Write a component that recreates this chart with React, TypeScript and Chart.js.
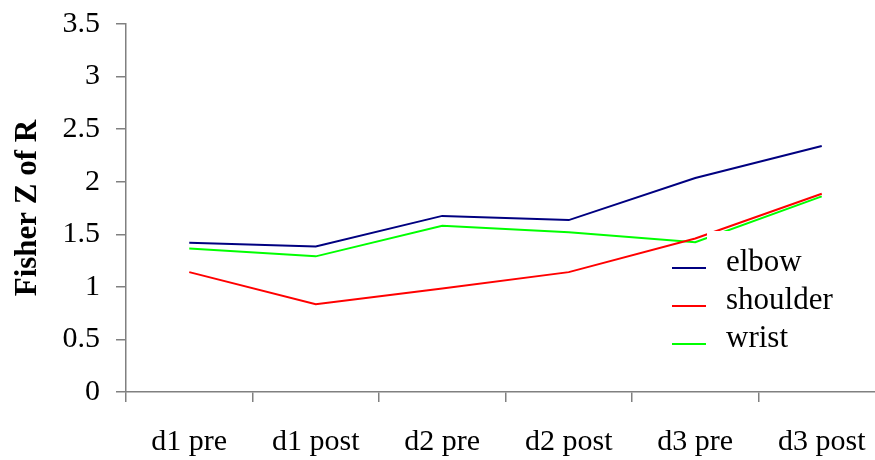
import React, { useEffect, useRef } from "react";
import { Chart, registerables } from "chart.js";

Chart.register(...registerables);

const categories = ["d1 pre", "d1 post", "d2 pre", "d2 post", "d3 pre", "d3 post"];
const elbow = [1.42, 1.385, 1.675, 1.635, 2.035, 2.34];
const shoulder = [1.14, 0.835, 0.985, 1.14, 1.46, 1.885];
const wrist = [1.365, 1.29, 1.58, 1.52, 1.425, 1.86];
const seriesNames = ["elbow", "shoulder", "wrist"];
const seriesColors = ["#000080", "#ff0000", "#00ff00"];
const yTicks = [0, 0.5, 1, 1.5, 2, 2.5, 3, 3.5];

const FONT = "'Liberation Serif', 'Times New Roman', serif";

const legendPlugin = {
  id: "customLegend",
  afterDatasetsDraw(chart: any) {
    const ctx = chart.ctx;
    ctx.save();
    ctx.fillStyle = "#ffffff";
    ctx.fillRect(707, 231, 150, 130);
    ctx.font = `31px ${FONT}`;
    ctx.textBaseline = "alphabetic";
    ctx.textAlign = "left";
    chart.data.datasets.forEach((ds: any, i: number) => {
      const y = 268 + i * 38;
      ctx.strokeStyle = ds.borderColor;
      ctx.lineWidth = 2;
      ctx.beginPath();
      ctx.moveTo(672, y);
      ctx.lineTo(706, y);
      ctx.stroke();
      ctx.fillStyle = "#000";
      ctx.fillText(ds.label, 726, y + 3);
    });
    ctx.restore();
  },
};

export default function App() {
  const ref = useRef<HTMLCanvasElement | null>(null);
  useEffect(() => {
    if (!ref.current) return;
    const axisColor = "#808080";
    const chart = new Chart(ref.current, {
      type: "line",
      data: {
        labels: categories,
        datasets: [elbow, shoulder, wrist].map((d, i) => ({
          label: seriesNames[i],
          data: d,
          borderColor: seriesColors[i],
          backgroundColor: seriesColors[i],
          borderWidth: 2,
          pointRadius: 0,
          tension: 0,
          fill: false,
        })),
      },
      options: {
        animation: false,
        responsive: false,
        maintainAspectRatio: false,
        layout: { padding: { top: 24, right: 15, left: 0, bottom: 0 } },
        plugins: {
          legend: { display: false },
          tooltip: { enabled: false },
        },
        scales: {
          x: {
            type: "category",
            offset: true,
            grid: {
              offset: true,
              drawOnChartArea: false,
              drawTicks: true,
              tickLength: 10,
              color: axisColor,
              lineWidth: 1.5,
            },
            border: { color: axisColor, width: 1.5 },
            ticks: {
              color: "#000",
              font: { family: FONT, size: 30 },
              padding: 22,
              maxRotation: 0,
              autoSkip: false,
            },
            afterFit(scale: any) {
              scale.height = 68;
              scale.paddingLeft = 0;
              scale.paddingRight = 0;
            },
          },
          y: {
            min: 0,
            max: 3.5,
            afterBuildTicks(scale: any) {
              scale.ticks = yTicks.map((v) => ({ value: v }));
            },
            grid: {
              drawOnChartArea: false,
              drawTicks: true,
              tickLength: 10,
              color: axisColor,
              lineWidth: 1.5,
            },
            border: { color: axisColor, width: 1.5 },
            ticks: {
              color: "#000",
              font: { family: FONT, size: 30 },
              padding: 16,
              callback: (v: any) => String(v),
            },
            title: {
              display: true,
              text: "Fisher Z of R",
              color: "#000",
              font: { family: FONT, size: 31, weight: "bold", lineHeight: 1 },
              padding: { top: 12, bottom: 0 },
            },
            afterFit(scale: any) {
              scale.width = 126;
              scale.paddingTop = 0;
              scale.paddingBottom = 0;
            },
          },
        },
      },
      plugins: [legendPlugin],
    });
    return () => chart.destroy();
  }, []);

  return (
    <div
      style={{
        position: "fixed",
        left: 0,
        top: 0,
        width: 875,
        height: 460,
        overflow: "hidden",
        background: "#fff",
      }}
    >
      <canvas ref={ref} width={900} height={460} style={{ display: "block" }} />
    </div>
  );
}
